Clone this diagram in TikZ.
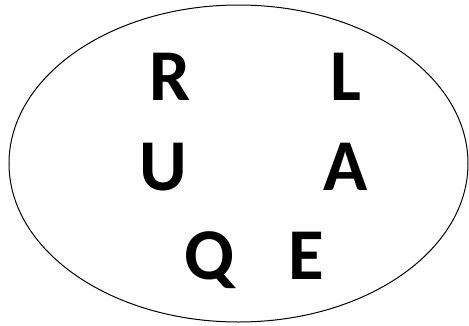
\documentclass[tikz,border=0pt]{standalone}
\usepackage{fontspec}
\setmainfont{Carlito}
\begin{document}
\begin{tikzpicture}[x=1pt,y=-1pt,
  letter/.style={anchor=base,inner sep=0pt,font=\fontsize{73}{80}\selectfont\bfseries}]
\useasboundingbox (0,0) rectangle (469,325);
\draw[line width=1pt] (238.5,163.5) ellipse [x radius=229.5, y radius=158.5];
\node[letter] (r) at (170.5,100) {R};
\node[letter] (l) at (346,100) {L};
\node[letter] (u) at (163,190) {U};
\node[letter] (a) at (346,190) {A};
\node[letter] (q) at (210,279) {Q};
\node[letter] (e) at (306,279) {E};
\end{tikzpicture}
\end{document}
